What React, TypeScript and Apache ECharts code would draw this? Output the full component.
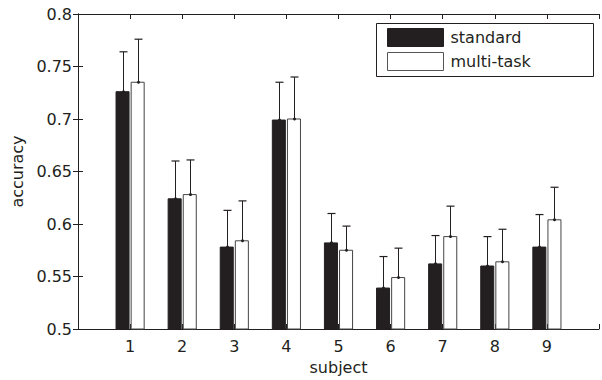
import React, { useEffect, useRef } from "react";
import * as echarts from "echarts";

const subjects = [1, 2, 3, 4, 5, 6, 7, 8, 9];
const standardMean = [0.726, 0.624, 0.578, 0.699, 0.582, 0.539, 0.562, 0.56, 0.578];
const standardErr = [0.038, 0.036, 0.035, 0.036, 0.028, 0.03, 0.027, 0.028, 0.031];
const multiTaskMean = [0.735, 0.628, 0.584, 0.7, 0.575, 0.549, 0.588, 0.564, 0.604];
const multiTaskErr = [0.041, 0.033, 0.038, 0.04, 0.023, 0.028, 0.029, 0.031, 0.031];
const yTicks = [0.5, 0.55, 0.6, 0.65, 0.7, 0.75, 0.8];

const INK = "#231f20";
const FONT = "'DejaVu Sans', 'Liberation Sans', Arial, sans-serif";

function makeRender(side: number, fill: string, stroke: string) {
  return (params: any, api: any) => {
    const x = api.value(0);
    const y = api.value(1);
    const e = api.value(2);
    const left = side < 0 ? x - 0.27 : x + 0.02;
    const right = left + 0.25;
    const tl = api.coord([left, y]);
    const br = api.coord([right, yTicks[0]]);
    const cx = Math.round((tl[0] + br[0]) / 2) + 0.5;
    const top = api.coord([x, y + e])[1];
    return {
      type: "group",
      children: [
        {
          type: "rect",
          shape: { x: tl[0], y: tl[1], width: br[0] - tl[0], height: br[1] - tl[1] },
          style: { fill, stroke, lineWidth: 1 },
        },
        {
          type: "line",
          shape: { x1: cx, y1: tl[1], x2: cx, y2: top },
          style: { stroke: INK, lineWidth: 1 },
        },
        {
          type: "line",
          shape: { x1: cx - 4, y1: top, x2: cx + 4, y2: top },
          style: { stroke: INK, lineWidth: 1.2 },
        },
        {
          type: "circle",
          shape: { cx, cy: tl[1], r: 1.5 },
          style: { fill: INK },
        },
      ],
    };
  };
}

export default function App() {
  const ref = useRef<HTMLDivElement>(null);
  useEffect(() => {
    const chart = echarts.init(ref.current!, null, { renderer: "svg" });
    const axisLine = { show: true, lineStyle: { color: INK, width: 1 } };
    const axisTick = { show: true, inside: true, length: 5, lineStyle: { color: INK } };
    chart.setOption({
      animation: false,
      backgroundColor: "#ffffff",
      textStyle: { fontFamily: FONT },
      grid: { left: 78, right: -1, top: 14, bottom: 50, containLabel: false },
      graphic: [
        {
          type: "rect",
          left: 376,
          top: 23,
          z: 90,
          shape: { width: 217, height: 53 },
          style: { fill: "#ffffff", stroke: INK, lineWidth: 1 },
        },
      ],
      legend: {
        z: 100,
        orient: "vertical",
        left: 387,
        top: 28,
        padding: 0,
        itemGap: 5,
        itemWidth: 56,
        itemHeight: 18,
        textStyle: { fontFamily: FONT, fontSize: 16, color: INK, padding: [0, 0, 0, 2] },
        data: [
          { name: "standard", icon: "rect", itemStyle: { color: INK, borderColor: INK, borderWidth: 1 } },
          { name: "multi-task", icon: "rect", itemStyle: { color: "#ffffff", borderColor: "#555555", borderWidth: 1 } },
        ],
      },
      xAxis: [
        {
          type: "value",
          min: 0,
          max: 10,
          interval: 1,
          name: "subject",
          nameLocation: "middle",
          nameGap: 30,
          nameTextStyle: { fontFamily: FONT, fontSize: 16, color: INK },
          axisLine,
          axisTick,
          splitLine: { show: false },
          axisLabel: {
            fontFamily: FONT,
            fontSize: 16,
            color: INK,
            margin: 9,
            formatter: (v: number) => (subjects.includes(v) ? String(v) : ""),
          },
        },
        {
          type: "value",
          position: "top",
          min: 0,
          max: 10,
          interval: 1,
          axisLine,
          axisTick,
          splitLine: { show: false },
          axisLabel: { show: false },
        },
      ],
      yAxis: [
        {
          type: "value",
          min: yTicks[0],
          max: yTicks[yTicks.length - 1],
          interval: 0.05,
          name: "accuracy",
          nameLocation: "middle",
          nameGap: 52,
          nameTextStyle: { fontFamily: FONT, fontSize: 16, color: INK },
          axisLine,
          axisTick,
          splitLine: { show: false },
          axisLabel: {
            fontFamily: FONT,
            fontSize: 16,
            color: INK,
            margin: 6,
            formatter: (v: number) => String(parseFloat(v.toFixed(2))),
          },
        },
        {
          type: "value",
          position: "right",
          min: yTicks[0],
          max: yTicks[yTicks.length - 1],
          interval: 0.05,
          axisLine,
          axisTick,
          splitLine: { show: false },
          axisLabel: { show: false },
        },
      ],
      series: [
        {
          name: "standard",
          type: "custom",
          itemStyle: { color: INK },
          renderItem: makeRender(-1, INK, INK),
          encode: { x: 0, y: 1 },
          data: subjects.map((s, i) => [s, standardMean[i], standardErr[i]]),
        },
        {
          name: "multi-task",
          type: "custom",
          itemStyle: { color: "#ffffff" },
          renderItem: makeRender(1, "#ffffff", "#444444"),
          encode: { x: 0, y: 1 },
          data: subjects.map((s, i) => [s, multiTaskMean[i], multiTaskErr[i]]),
        },
      ],
    });
    return () => chart.dispose();
  }, []);
  return (
    <div
      ref={ref}
      style={{ position: "absolute", left: 0, top: 0, width: 602, height: 380 }}
    />
  );
}
